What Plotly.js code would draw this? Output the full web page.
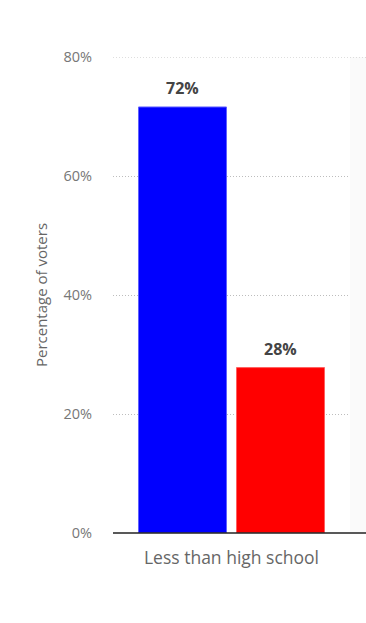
<!DOCTYPE html>
<html><head><meta charset="utf-8">
<script src="https://cdn.plot.ly/plotly-3.0.1.min.js"></script>
<style>html,body{margin:0;padding:0;background:#fff}#chart{width:366px;height:623px}</style>
</head><body><div id="chart"></div>
<script>
const categories = ["Less than high school"];
const seriesNames = ["Biden", "Trump"];
const bidenValues = [71.6];
const trumpValues = [27.8];
const bidenLabels = ["72%"];
const trumpLabels = ["28%"];
const yTickVals = [0, 20, 40, 60, 80];
const yTickText = ["0%", "20%", "40%", "60%", "80%"];

const labelFont = {family: "Open Sans, sans-serif", size: 16, color: "#444", weight: "bold"};
const traces = [
  {type: "bar", name: seriesNames[0], x: categories, y: bidenValues,
   marker: {color: "#0000ff", line: {color: "#6060ff", width: 1}}, hoverinfo: "none"},
  {type: "bar", name: seriesNames[1], x: categories, y: trumpValues,
   marker: {color: "#ff0000", line: {color: "#ff6060", width: 1}}, hoverinfo: "none"}
];
const annotations = [];
const seriesData = [[bidenValues, bidenLabels, -49], [trumpValues, trumpLabels, 49]];
seriesData.forEach(([vals, labs, shift]) => {
  categories.forEach((c, i) => {
    annotations.push({x: c, y: vals[i], xref: "x", yref: "y", text: labs[i], showarrow: false,
      xanchor: "center", yanchor: "bottom", xshift: shift, yshift: 6, font: labelFont});
  });
});
const layout = {
  width: 366, height: 623,
  margin: {l: 113, r: 16, t: 57, b: 90},
  paper_bgcolor: "#fff", plot_bgcolor: "#fff",
  showlegend: false,
  barmode: "group", bargap: 0.173, bargroupgap: 0.102,
  font: {family: "Open Sans, sans-serif", color: "#666"},
  xaxis: {type: "category", showgrid: false, zeroline: false, showline: false,
          tickfont: {size: 17.5, color: "#666"}, ticks: "", ticklabelstandoff: 12},
  yaxis: {range: [0, 80], tickvals: yTickVals, ticktext: yTickText,
          showgrid: true, gridcolor: "#bdbdbd", griddash: "1px,2px", gridwidth: 1,
          zeroline: false, showline: false, ticks: "", ticklabelstandoff: 20,
          tickfont: {size: 14.5, color: "#777"},
          title: {text: "Percentage of voters", font: {size: 15, color: "#666"}, standoff: 12}},
  annotations: annotations,
  shapes: [
    {type: "rect", xref: "paper", yref: "paper", x0: 1, x1: 1.0675, y0: 0, y1: 1,
     fillcolor: "#fafafa", line: {width: 0}, layer: "below"},
    {type: "line", xref: "paper", yref: "y", x0: 0, x1: 1.0675, y0: 80, y1: 80,
     line: {color: "#bdbdbd", width: 1, dash: "1px,2px"}},
    {type: "line", xref: "paper", yref: "paper", x0: 0, x1: 1.0675, y0: 0, y1: 0,
     line: {color: "#222", width: 1.5}}
  ]
};
Plotly.newPlot("chart", traces, layout, {displayModeBar: false, staticPlot: true});
</script></body></html>
